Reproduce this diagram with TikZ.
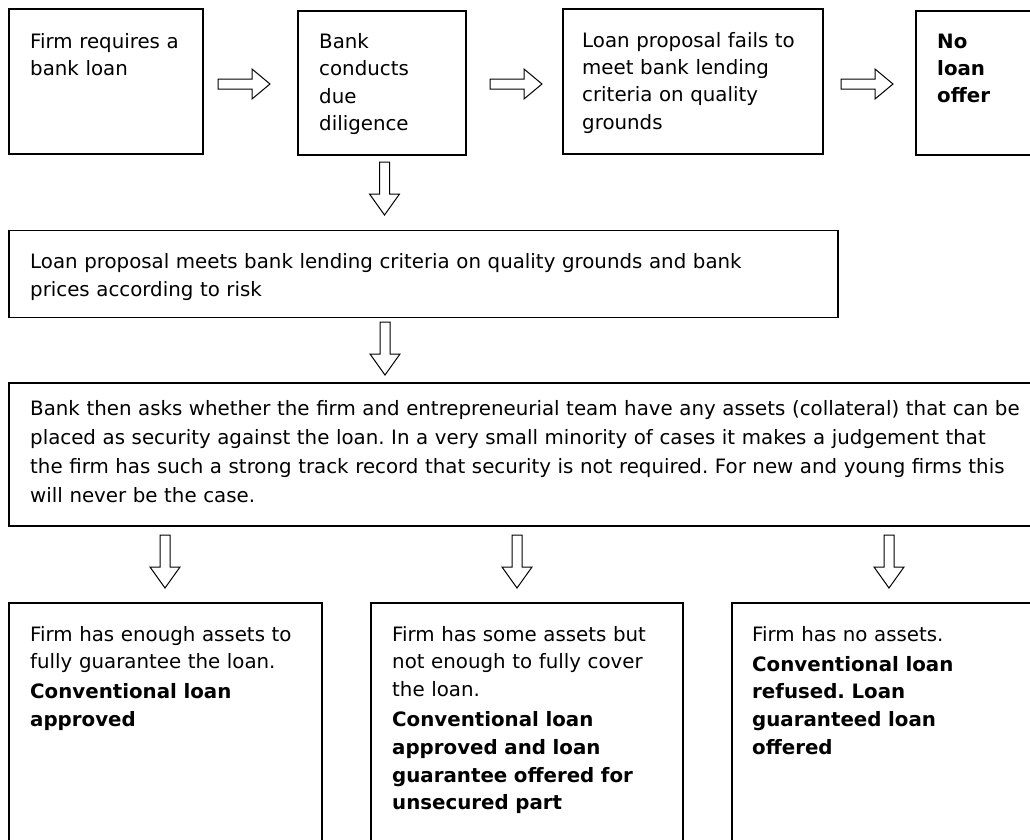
\documentclass[tikz,border=0pt]{standalone}
\usepackage{fontspec}
\setmainfont{DejaVu Sans}
\frenchspacing
\tikzset{
  box/.style={draw=black, line width=1.5pt, rectangle, inner sep=0pt, anchor=north west},
  txt/.style={anchor=north west, inner sep=0pt, align=left, font=\fontsize{19.8}{#1}\selectfont\frenchspacing},
  txt/.default=27.7,
  arr/.style={draw=black, line width=1pt, fill=white, line join=miter},
  rarrow/.pic={\draw[arr] (0,-5) -- (34,-5) -- (34,-15) -- (52,0) -- (34,15) -- (34,5) -- (0,5) -- cycle;},
  darrow/.pic={\draw[arr] (-5,0) -- (-5,32) -- (-15,32) -- (0,53) -- (15,32) -- (5,32) -- (5,0) -- cycle;}
}
\newcommand{\fl}{\rule{0pt}{16pt}}
\begin{document}
\begin{tikzpicture}[x=1pt,y=-1pt]
\useasboundingbox (0,0) rectangle (1030,839);
\clip (0,0) rectangle (1030,839);
\fill[white] (0,0) rectangle (1030,839);

% top row boxes
\node[box, minimum width=194pt, minimum height=145pt] (b1) at (8,8) {};
\node[box, minimum width=168pt, minimum height=144pt] (b2) at (297,10) {};
\node[box, minimum width=260pt, minimum height=145pt] (b3) at (562,8) {};
\node[box, minimum width=200pt, minimum height=144pt] (b4) at (915,10) {};

\node[txt=27.3, text width=170pt] (t1) at (30,32) {\fl Firm requires a\\bank loan};
\node[txt=27.3, text width=140pt] (t2) at (319,32.3) {\fl Bank\\conducts\\due\\diligence};
\node[txt=27.3, text width=236pt] (t3) at (582,31) {\fl Loan proposal fails to\\meet bank lending\\criteria on quality\\grounds};
\node[txt=27.3, text width=90pt] (t4) at (937,32) {\fl\bfseries No\\loan\\offer};

% middle boxes
\node[box, minimum width=829pt, minimum height=87pt] (m1) at (8,229.5) {};
\node[txt=27.5, text width=800pt] (tm1) at (30,252.3) {\fl Loan proposal meets bank lending criteria on quality grounds and bank\\prices according to risk};

\node[box, minimum width=1100pt, minimum height=143pt] (m2) at (8,382) {};
\node[txt=29, text width=1010pt] (tm2) at (30,399) {\fl Bank then asks whether the firm and entrepreneurial team have any assets (collateral) that can be\\placed as security against the loan. In a very small minority of cases it makes a judgement that\\the firm has such a strong track record that security is not required. For new and young firms this\\will never be the case.};

% bottom boxes
\node[box, minimum width=313pt, minimum height=300pt] (c1) at (8,602) {};
\node[box, minimum width=312pt, minimum height=300pt] (c2) at (370,602) {};
\node[box, minimum width=400pt, minimum height=300pt] (c3) at (731,602) {};

\node[txt, text width=290pt] (tc1) at (30,625) {\fl Firm has enough assets to\\fully guarantee the loan.\\[2.3pt]\bfseries Conventional loan\\approved};
\node[txt, text width=290pt] (tc2) at (392,625) {\fl Firm has some assets but\\not enough to fully cover\\the loan.\\[2.3pt]\bfseries Conventional loan\\approved and loan\\guarantee offered for\\unsecured part};
\node[txt, text width=290pt] (tc3) at (752,625) {\fl Firm has no assets.\\[2.3pt]\bfseries Conventional loan\\refused. Loan\\guaranteed loan\\offered};

% block arrows
\pic at (218,84) {rarrow};
\pic at (490,84) {rarrow};
\pic at (841,84) {rarrow};
\pic at (384.5,162) {darrow};
\pic at (385,322) {darrow};
\pic at (165,535) {darrow};
\pic at (517,535) {darrow};
\pic at (889,535) {darrow};
\end{tikzpicture}
\end{document}
